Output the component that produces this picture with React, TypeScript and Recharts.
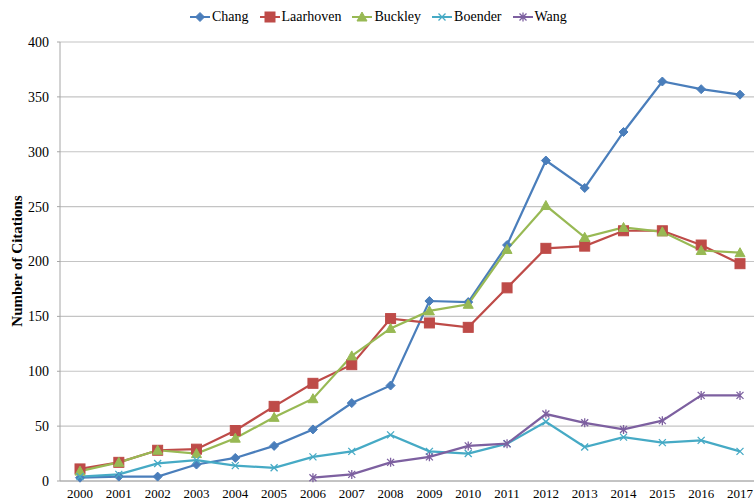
import React from 'react';
import { LineChart, Line, XAxis, YAxis, CartesianGrid } from 'recharts';

const years = ['2000','2001','2002','2003','2004','2005','2006','2007','2008','2009','2010','2011','2012','2013','2014','2015','2016','2017'];
const chang = [3,4,4,15,21,32,47,71,87,164,163,215,292,267,318,364,357,352];
const laarhoven = [11,17,28,29,46,68,89,106,148,144,140,176,212,214,228,228,215,198];
const buckley = [9,17,28,25,39,58,75,114,139,155,161,211,251,222,231,227,210,208];
const boender = [4,6,16,19,14,12,22,27,42,27,25,34,54,31,40,35,37,27];
const wang: (number | null)[] = [null,null,null,null,null,null,3,6,17,22,32,34,61,53,47,55,78,78];
const yTicks = [0,50,100,150,200,250,300,350,400];
const bandEdges = [-0.5,0.5,1.5,2.5,3.5,4.5,5.5,6.5,7.5,8.5,9.5,10.5,11.5,12.5,13.5,14.5,15.5,16.5];

const data = years.map((y, i) => ({
  year: y,
  idx: i,
  Chang: chang[i],
  Laarhoven: laarhoven[i],
  Buckley: buckley[i],
  Boender: boender[i],
  Wang: wang[i],
}));

const COLORS = {
  Chang: '#4A7EBB',
  Laarhoven: '#BE4B48',
  Buckley: '#98B954',
  Boender: '#46AAC5',
  Wang: '#7D60A0',
};

type Kind = 'diamond' | 'square' | 'triangle' | 'x' | 'star';

const shape = (kind: Kind, cx: number, cy: number, color: string) => {
  switch (kind) {
    case 'diamond':
      return <path d={`M${cx},${cy - 4.5}L${cx + 4.5},${cy}L${cx},${cy + 4.5}L${cx - 4.5},${cy}Z`} fill={color} stroke={color} strokeWidth={1} />;
    case 'square':
      return <rect x={cx - 5} y={cy - 5} width={10} height={10} fill={color} stroke={color} strokeWidth={1} />;
    case 'triangle':
      return <path d={`M${cx},${cy - 5}L${cx + 5},${cy + 4}L${cx - 5},${cy + 4}Z`} fill={color} stroke={color} strokeWidth={1} />;
    case 'x':
      return <path d={`M${cx - 3.5},${cy - 3.5}L${cx + 3.5},${cy + 3.5}M${cx - 3.5},${cy + 3.5}L${cx + 3.5},${cy - 3.5}`} stroke={color} strokeWidth={1.3} fill="none" />;
    case 'star':
      return <path d={`M${cx - 3.5},${cy - 3.5}L${cx + 3.5},${cy + 3.5}M${cx - 3.5},${cy + 3.5}L${cx + 3.5},${cy - 3.5}M${cx},${cy - 4.5}L${cx},${cy + 4.5}`} stroke={color} strokeWidth={1.3} fill="none" />;
  }
};

const makeDot = (kind: Kind, color: string) => (props: any) => {
  const { cx, cy, index, value } = props;
  if (cx == null || cy == null || value == null || (Array.isArray(value) && value[1] == null)) {
    return <g key={`d-${index}`} />;
  }
  return <g key={`d-${index}`}>{shape(kind, cx, cy, color)}</g>;
};

const series: { key: keyof typeof COLORS; kind: Kind }[] = [
  { key: 'Chang', kind: 'diamond' },
  { key: 'Laarhoven', kind: 'square' },
  { key: 'Buckley', kind: 'triangle' },
  { key: 'Boender', kind: 'x' },
  { key: 'Wang', kind: 'star' },
];

const FONT = '"Liberation Serif", "Times New Roman", serif';

const YTitle = () => (
  <text
    x={17}
    y={261}
    transform="rotate(-90 17 261)"
    textAnchor="middle"
    dominantBaseline="central"
    fontFamily={FONT}
    fontWeight="bold"
    fontSize={15}
    fill="#000"
  >
    Number of Citations
  </text>
);

export default function App() {
  return (
    <div style={{ position: 'relative', width: 754, height: 500, background: '#fff' }}>
      <style>{'body{margin:0;}'}</style>
      <LineChart width={754} height={500} data={data} margin={{ top: 42, right: 0, bottom: 0, left: 0 }}>
        <CartesianGrid vertical={false} stroke="#C4C4C4" strokeWidth={1.2} />
        <XAxis
          xAxisId="edges"
          dataKey="idx"
          type="number"
          domain={[-0.515, 17.36]}
          ticks={bandEdges}
          allowDataOverflow
          height={0}
          tickSize={5}
          tickFormatter={() => ''}
          tickLine={{ stroke: '#A6A6A6' }}
          axisLine={false}
        />
        <XAxis
          dataKey="year"
          height={19}
          padding={{ left: 20, right: 14 }}
          tickLine={false}
          tickSize={0}
          tickMargin={8}
          axisLine={{ stroke: '#A6A6A6' }}
          interval={0}
          tick={{ fontFamily: FONT, fontSize: 13, fill: '#000' }}
        />
        <YAxis
          width={60}
          domain={[0, 400]}
          ticks={yTicks}
          interval={0}
          tickSize={3}
          tickMargin={8}
          tickLine={{ stroke: '#A6A6A6' }}
          axisLine={{ stroke: '#A6A6A6' }}
          tick={{ fontFamily: FONT, fontSize: 14, fill: '#000' }}
          label={{ content: <YTitle /> } as any}
        />
        {series.map((s) => (
          <Line
            key={s.key}
            dataKey={s.key}
            type="linear"
            stroke={COLORS[s.key]}
            strokeWidth={2.2}
            dot={makeDot(s.kind, COLORS[s.key])}
            activeDot={false}
            isAnimationActive={false}
            connectNulls={false}
          />
        ))}
      </LineChart>
      <div
        style={{
          position: 'absolute',
          top: 8,
          left: 190,
          display: 'flex',
          alignItems: 'center',
          fontFamily: FONT,
          fontSize: 14,
          color: '#000',
          height: 18,
        }}
      >
        {series.map((s) => (
          <div key={s.key} style={{ display: 'flex', alignItems: 'center', marginRight: 11 }}>
            <svg width={20} height={14} style={{ marginRight: 2 }}>
              <line x1={0} y1={7} x2={20} y2={7} stroke={COLORS[s.key]} strokeWidth={2} />
              {shape(s.kind, 10, 7, COLORS[s.key])}
            </svg>
            <span>{s.key}</span>
          </div>
        ))}
      </div>
    </div>
  );
}
